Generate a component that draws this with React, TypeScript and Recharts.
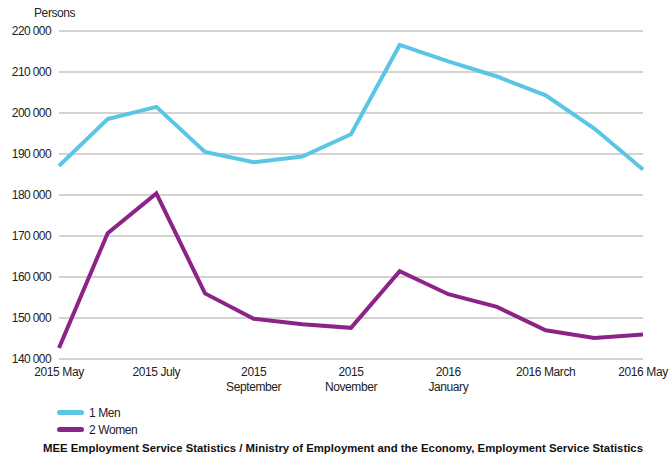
import { LineChart, Line, XAxis, YAxis, CartesianGrid } from 'recharts'

const months = [
  '2015 May', '2015 June', '2015 July', '2015 August', '2015 September', '2015 October',
  '2015 November', '2015 December', '2016 January', '2016 February', '2016 March', '2016 April', '2016 May'
]
// shown labels (every second month), split into lines
const tickLabels: string[][] = [
  ['2015 May'], [], ['2015 July'], [], ['2015', 'September'], [],
  ['2015', 'November'], [], ['2016', 'January'], [], ['2016 March'], [], ['2016 May']
]
const men = [187100, 198500, 201500, 190500, 188000, 189400, 194800, 216600, 212600, 208900, 204300, 196200, 186200]
const women = [142700, 170700, 180400, 156000, 149800, 148500, 147600, 161400, 155800, 152700, 147000, 145100, 146000]
const yTicks = [140000, 150000, 160000, 170000, 180000, 190000, 200000, 210000, 220000]
const seriesNames = ['1 Men', '2 Women']

const MEN_COLOR = '#5bc5e6'
const WOMEN_COLOR = '#8c2488'
const FONT = '"Liberation Sans", Arial, sans-serif'

const chartData = months.map((m, i) => ({ month: m, men: men[i], women: women[i] }))

const fmt = (v: number) => {
  const s = String(v)
  return s.slice(0, s.length - 3) + ' ' + s.slice(-3)
}

const XTick = (props: any) => {
  const { x, y, payload } = props
  const lines = tickLabels[payload.index] || []
  if (!lines.length) return null
  return (
    <text x={x} y={y} textAnchor="middle" fontSize={12} fill="#222" fontFamily={FONT} letterSpacing={-0.4}>
      {lines.map((l, i) => (
        <tspan key={i} x={x} dy={i === 0 ? 9 : 15}>{l}</tspan>
      ))}
    </text>
  )
}

export default function App() {
  const colors = [MEN_COLOR, WOMEN_COLOR]
  return (
    <div style={{ position: 'fixed', left: 0, top: 0, width: 669, height: 454, background: '#fff' }}>
      <LineChart width={669} height={454} data={chartData} margin={{ top: 31, right: 26, left: 0, bottom: 65 }}>
        <CartesianGrid vertical={false} stroke="#c4c4c4" strokeWidth={1.5} />
        <XAxis
          dataKey="month"
          interval={0}
          tick={<XTick />}
          tickLine={false}
          axisLine={false}
          tickSize={0}
          tickMargin={8}
          height={30}
        />
        <YAxis
          width={59}
          domain={[140000, 220000]}
          ticks={yTicks}
          tickFormatter={fmt}
          tickLine={false}
          axisLine={false}
          tickSize={0}
          tickMargin={8}
          tick={{ fontSize: 12, fill: '#222', fontFamily: FONT, letterSpacing: -0.6 }}
        />
        <Line type="linear" dataKey="men" name={seriesNames[0]} stroke={MEN_COLOR} strokeWidth={4} dot={false} isAnimationActive={false} />
        <Line type="linear" dataKey="women" name={seriesNames[1]} stroke={WOMEN_COLOR} strokeWidth={4} dot={false} isAnimationActive={false} />
        <text x={34} y={17} fontSize={12} fill="#222" fontFamily={FONT} letterSpacing={-0.4}>Persons</text>
        <text x={343} y={452} textAnchor="middle" fontSize={11} fontWeight="bold" fill="#111" fontFamily={FONT} textLength={600} lengthAdjust="spacingAndGlyphs">
          MEE Employment Service Statistics / Ministry of Employment and the Economy, Employment Service Statistics
        </text>
      </LineChart>
      <div style={{ position: 'absolute', left: 57, top: 404, fontFamily: FONT, fontSize: 12, color: '#222', letterSpacing: -0.4 }}>
        {seriesNames.map((name, i) => (
          <div key={name} style={{ display: 'flex', alignItems: 'center', height: 17 }}>
            <span style={{ display: 'inline-block', width: 27, height: 5, borderRadius: 3, background: colors[i], marginRight: 5 }} />
            {name}
          </div>
        ))}
      </div>
    </div>
  )
}
